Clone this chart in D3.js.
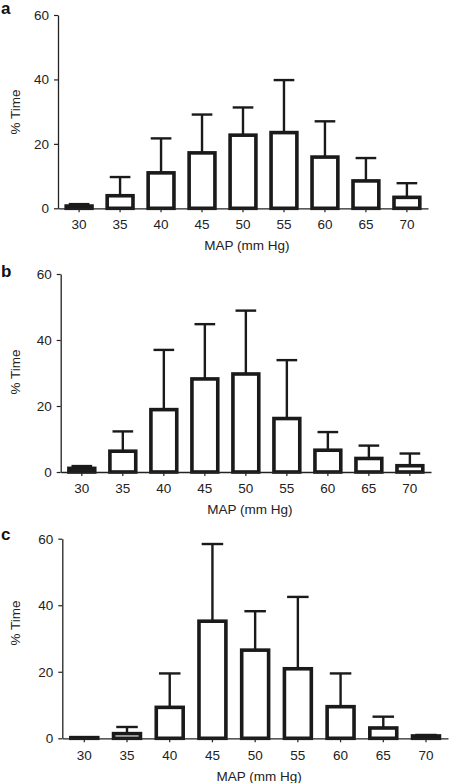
<!DOCTYPE html>
<html>
<head>
<meta charset="utf-8">
<script src="https://cdn.jsdelivr.net/npm/d3@7"></script>
<style>
  html, body { margin: 0; padding: 0; background: #fff; }
  svg { display: block; }
  text { font-family: "Liberation Sans", Arial, Helvetica, sans-serif; fill: #222; }
</style>
</head>
<body>
<svg id="chart" width="450" height="783"></svg>
<script>
// ---- data ----
const categories = [30, 35, 40, 45, 50, 55, 60, 65, 70];
const yTicks = [0, 20, 40, 60];
const panelLabels = ["a", "b", "c"];
const xTitle = "MAP (mm Hg)";
const yTitle = "% Time";

// mean % time per MAP bin, and SD (upper error bar)
const meanA = [0.7, 3.9, 11.0, 17.2, 22.7, 23.5, 15.9, 8.5, 3.4];
const sdA   = [0.6, 5.8, 10.7, 11.9, 8.6, 16.3, 11.1, 7.1, 4.4];
const meanB = [1.1, 6.3, 18.9, 28.2, 29.7, 16.2, 6.6, 4.1, 1.9];
const sdB   = [0.7, 6.0, 18.1, 16.6, 19.2, 17.7, 5.5, 3.9, 3.7];
const meanC = [0.2, 1.4, 9.3, 35.2, 26.5, 20.9, 9.5, 3.1, 0.7];
const sdC   = [0.1, 2.0, 10.2, 23.2, 11.7, 21.6, 10.0, 3.4, 0.3];

const seriesMeans = [meanA, meanB, meanC];
const seriesSDs = [sdA, sdB, sdC];

// ---- layout ----
const FS = 13.5;
const layout = [
  { left: 58,   right: 428, top: 15,    zero: 208.3, xTickY: 229, xTitleY: 250, yTitleY: 112, labelY: 14 },
  { left: 60.7, right: 431, top: 274,   zero: 472,   xTickY: 493, xTitleY: 514, yTitleY: 372, labelY: 277 },
  { left: 62.3, right: 448, top: 538.7, zero: 738.3, xTickY: 760, xTitleY: 781, yTitleY: 623, labelY: 540 }
];

const svg = d3.select("#chart");

layout.forEach((L, i) => {
  const means = seriesMeans[i];
  const sds = seriesSDs[i];
  const data = categories.map((c, k) => ({ c, m: means[k], sd: sds[k] }));

  const x = d3.scaleBand()
    .domain(categories)
    .range([L.left, L.right])
    .paddingInner(0.37)
    .paddingOuter(0.2);
  const y = d3.scaleLinear().domain([0, 60]).range([L.zero, L.top]);

  const g = svg.append("g");

  // error bars (drawn first, from bar top upward)
  const bw = x.bandwidth();
  const capHalf = bw * 0.4;
  const eb = g.append("g").attr("stroke", "#1a1a1a").attr("stroke-width", 2.4).attr("fill", "none");
  data.forEach(d => {
    const cx = x(d.c) + bw / 2;
    eb.append("line").attr("x1", cx).attr("x2", cx)
      .attr("y1", y(d.m)).attr("y2", y(d.m + d.sd));
    eb.append("line").attr("x1", cx - capHalf).attr("x2", cx + capHalf)
      .attr("y1", y(d.m + d.sd)).attr("y2", y(d.m + d.sd));
  });

  // bars
  g.append("g").selectAll("rect").data(data).join("rect")
    .attr("x", d => x(d.c))
    .attr("width", bw)
    .attr("y", d => y(d.m))
    .attr("height", d => Math.max(0, y(0) - y(d.m)))
    .attr("fill", "#fff")
    .attr("stroke", "#1a1a1a")
    .attr("stroke-width", 3.6);

  // x axis
  const xAxis = d3.axisBottom(x).tickSize(4).tickPadding(4).tickSizeOuter(0);
  const gx = g.append("g").attr("transform", `translate(0,${L.zero})`).call(xAxis);
  gx.select(".domain").attr("stroke", "#222").attr("stroke-width", 1.3);
  gx.selectAll(".tick line").attr("stroke", "#222").attr("stroke-width", 1.2);
  gx.selectAll(".tick text")
    .attr("y", null).attr("dy", null)
    .attr("transform", `translate(0,${L.xTickY - L.zero})`)
    .attr("font-size", FS)
    .attr("font-family", null);

  // y axis
  const yAxis = d3.axisLeft(y).tickValues(yTicks).tickSize(4).tickPadding(5).tickSizeOuter(0);
  const gy = g.append("g").attr("transform", `translate(${L.left},0)`).call(yAxis);
  gy.select(".domain").attr("stroke", "#222").attr("stroke-width", 1.3);
  gy.selectAll(".tick line").attr("stroke", "#222").attr("stroke-width", 1.2);
  gy.selectAll(".tick text").attr("font-size", FS).attr("font-family", null);

  // titles
  g.append("text")
    .attr("x", (L.left + L.right) / 2 + 4)
    .attr("y", L.xTitleY)
    .attr("text-anchor", "middle")
    .attr("font-size", FS)
    .text(xTitle);

  g.append("text")
    .attr("transform", `translate(20,${L.yTitleY}) rotate(-90)`)
    .attr("text-anchor", "middle")
    .attr("font-size", FS)
    .text(yTitle);

  g.append("text")
    .attr("x", 1)
    .attr("y", L.labelY)
    .attr("font-size", 17)
    .attr("font-weight", "bold")
    .style("fill", "#111")
    .text(panelLabels[i]);
});
</script>
</body>
</html>
